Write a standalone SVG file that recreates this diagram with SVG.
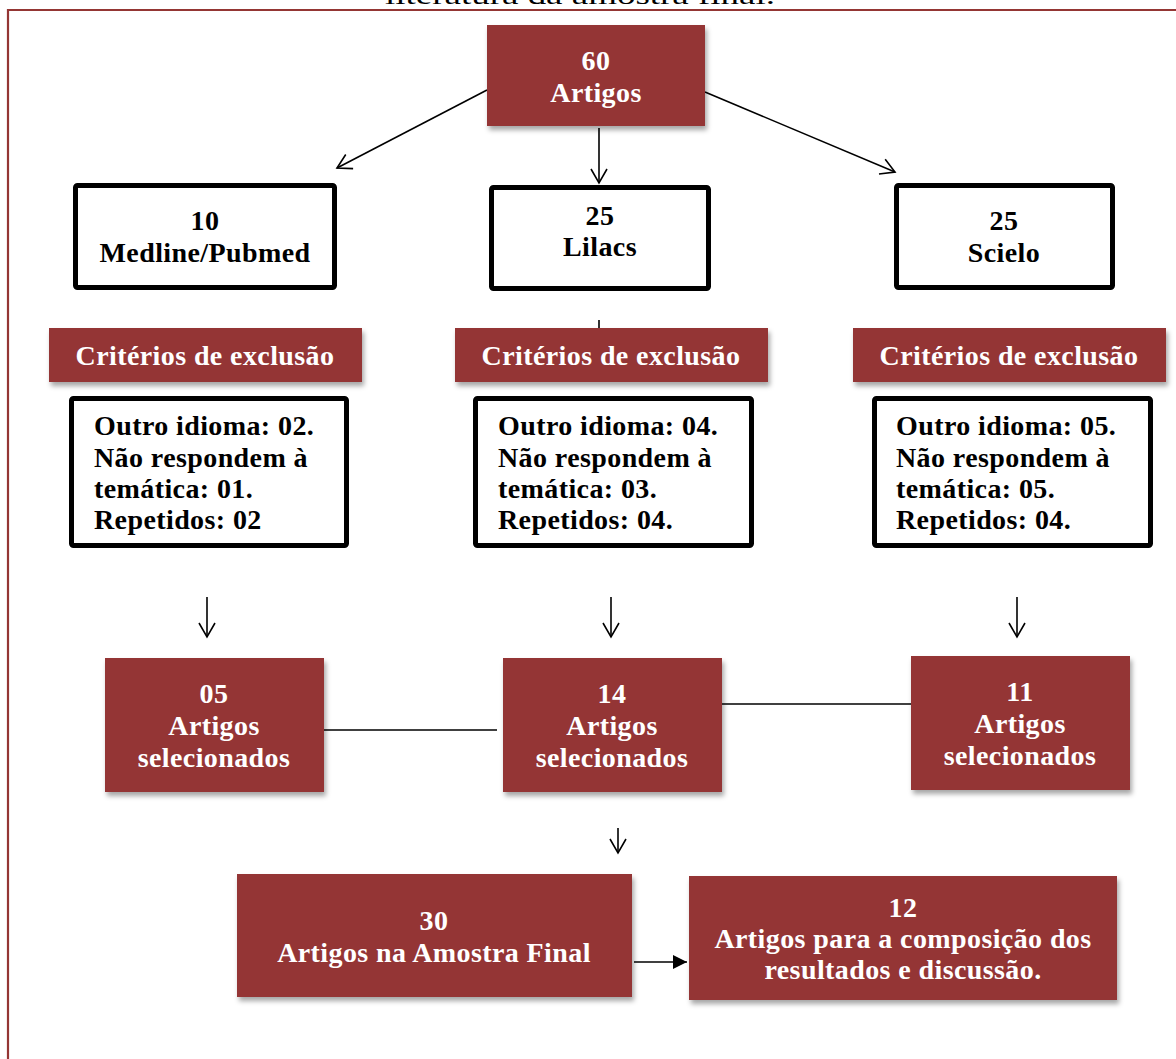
<svg xmlns="http://www.w3.org/2000/svg" width="1176" height="1059" viewBox="0 0 1176 1059">
<style>
.red{fill:#943634}
.wb{fill:#fff;stroke:#000;stroke-width:5}
.t{font-family:"Liberation Serif","Times New Roman",serif;font-weight:bold;font-size:28px;letter-spacing:0.4px}
.tw{fill:#fff}
.tb{fill:#000}
.c{text-anchor:middle}
.ln{stroke:#000;stroke-width:1.6;fill:none}
</style>
<defs>
<filter id="sh" x="-10%" y="-10%" width="130%" height="140%">
<feDropShadow dx="2" dy="4" stdDeviation="2.5" flood-color="#000" flood-opacity="0.35"/>
</filter>
<marker id="open" viewBox="0 0 20 20" refX="18" refY="10" markerWidth="20" markerHeight="20" markerUnits="userSpaceOnUse" orient="auto">
<path d="M4,2 L18,10 L4,18" fill="none" stroke="#000" stroke-width="1.6"/>
</marker>
<marker id="solid" viewBox="0 0 16 16" refX="15" refY="8" markerWidth="16" markerHeight="16" markerUnits="userSpaceOnUse" orient="auto">
<path d="M1,1 L15,8 L1,15 Z" fill="#000"/>
</marker>
</defs>
<rect width="1176" height="1059" fill="#fff"/>
<g id="page">
<text x="580" y="4" font-family="'Liberation Serif',serif" font-size="26" text-anchor="middle" textLength="390" lengthAdjust="spacingAndGlyphs">literatura da amostra final.</text>
<path d="M8,1059 V10 H1176" fill="none" stroke="#943634" stroke-width="2.2"/>
</g>
<g id="connectors">
<line class="ln" x1="487" y1="90" x2="337" y2="168" marker-end="url(#open)"/>
<line class="ln" x1="599" y1="128" x2="599" y2="183" marker-end="url(#open)"/>
<line class="ln" x1="705" y1="92" x2="895" y2="172" marker-end="url(#open)"/>
<line class="ln" x1="599" y1="320" x2="599" y2="328"/>
<line class="ln" x1="207" y1="597" x2="207" y2="637" marker-end="url(#open)"/>
<line class="ln" x1="611" y1="597" x2="611" y2="637" marker-end="url(#open)"/>
<line class="ln" x1="1017" y1="597" x2="1017" y2="637" marker-end="url(#open)"/>
<line class="ln" x1="324" y1="730" x2="497" y2="730"/>
<line class="ln" x1="722" y1="704" x2="911" y2="704"/>
<line class="ln" x1="618" y1="828" x2="618" y2="853" marker-end="url(#open)"/>
<line class="ln" x1="634" y1="962" x2="687" y2="962" marker-end="url(#solid)"/>
</g>
<g id="n60">
<rect class="red" x="487" y="25" width="218" height="101" filter="url(#sh)"/>
<text class="t tw c" x="596" y="70">60</text>
<text class="t tw c" x="596" y="102">Artigos</text>
</g>
<g id="medline">
<rect class="wb" x="75.5" y="185.5" width="259" height="102" rx="2"/>
<text class="t tb c" x="205" y="230">10</text>
<text class="t tb c" x="205" y="262">Medline/Pubmed</text>
</g>
<g id="lilacs">
<rect class="wb" x="491.5" y="187.5" width="217" height="101" rx="2"/>
<text class="t tb c" x="600" y="225">25</text>
<text class="t tb c" x="600" y="256">Lilacs</text>
</g>
<g id="scielo">
<rect class="wb" x="896.5" y="185.5" width="216" height="102" rx="2"/>
<text class="t tb c" x="1004" y="230">25</text>
<text class="t tb c" x="1004" y="262">Scielo</text>
</g>
<g id="crit1">
<rect class="red" x="49" y="328" width="313" height="54" filter="url(#sh)"/>
<text class="t tw c" x="205" y="365">Critérios de exclusão</text>
</g>
<g id="crit2">
<rect class="red" x="455" y="328" width="313" height="54" filter="url(#sh)"/>
<text class="t tw c" x="611" y="365">Critérios de exclusão</text>
</g>
<g id="crit3">
<rect class="red" x="853" y="328" width="313" height="54" filter="url(#sh)"/>
<text class="t tw c" x="1009" y="365">Critérios de exclusão</text>
</g>
<g id="excl1">
<rect class="wb" x="71.5" y="398.5" width="275" height="147" rx="2"/>
<text class="t tb" x="94" y="435">Outro idioma: 02.</text>
<text class="t tb" x="94" y="467">Não respondem à</text>
<text class="t tb" x="94" y="498">temática: 01.</text>
<text class="t tb" x="94" y="529">Repetidos: 02</text>
</g>
<g id="excl2">
<rect class="wb" x="475.5" y="398.5" width="276" height="147" rx="2"/>
<text class="t tb" x="498" y="435">Outro idioma: 04.</text>
<text class="t tb" x="498" y="467">Não respondem à</text>
<text class="t tb" x="498" y="498">temática: 03.</text>
<text class="t tb" x="498" y="529">Repetidos: 04.</text>
</g>
<g id="excl3">
<rect class="wb" x="874.5" y="398.5" width="276" height="147" rx="2"/>
<text class="t tb" x="896" y="435">Outro idioma: 05.</text>
<text class="t tb" x="896" y="467">Não respondem à</text>
<text class="t tb" x="896" y="498">temática: 05.</text>
<text class="t tb" x="896" y="529">Repetidos: 04.</text>
</g>
<g id="sel05">
<rect class="red" x="105" y="658" width="219" height="134" filter="url(#sh)"/>
<text class="t tw c" x="214" y="703">05</text>
<text class="t tw c" x="214" y="735">Artigos</text>
<text class="t tw c" x="214" y="767">selecionados</text>
</g>
<g id="sel14">
<rect class="red" x="503" y="658" width="219" height="134" filter="url(#sh)"/>
<text class="t tw c" x="612" y="703">14</text>
<text class="t tw c" x="612" y="735">Artigos</text>
<text class="t tw c" x="612" y="767">selecionados</text>
</g>
<g id="sel11">
<rect class="red" x="911" y="656" width="219" height="134" filter="url(#sh)"/>
<text class="t tw c" x="1020" y="701">11</text>
<text class="t tw c" x="1020" y="733">Artigos</text>
<text class="t tw c" x="1020" y="765">selecionados</text>
</g>
<g id="final30">
<rect class="red" x="237" y="874" width="395" height="123" filter="url(#sh)"/>
<text class="t tw c" x="434" y="930">30</text>
<text class="t tw c" x="434" y="962">Artigos na Amostra Final</text>
</g>
<g id="final12">
<rect class="red" x="689" y="876" width="428" height="124" filter="url(#sh)"/>
<text class="t tw c" x="903" y="917">12</text>
<text class="t tw c" x="903" y="948">Artigos para a composição dos</text>
<text class="t tw c" x="903" y="979">resultados e discussão.</text>
</g>
</svg>
